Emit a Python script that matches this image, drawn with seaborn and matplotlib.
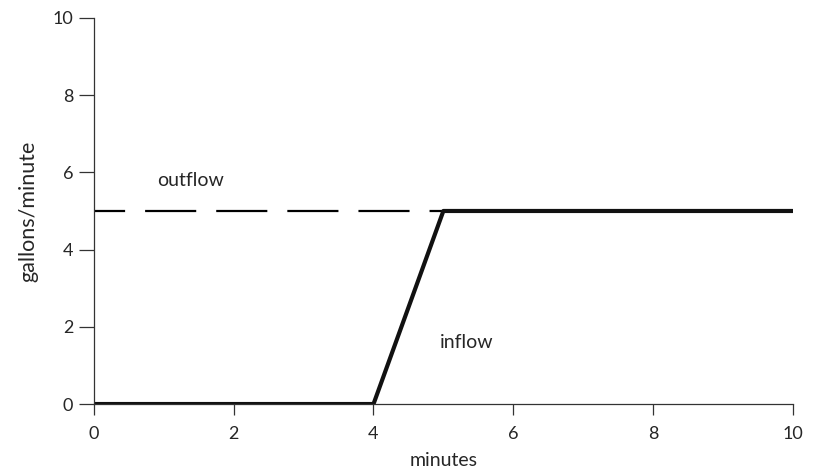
import matplotlib
matplotlib.use("Agg")
import matplotlib.pyplot as plt
import seaborn as sns
import pandas as pd

# data
inflow_minutes = [0, 4, 5, 10]
inflow_rate = [0, 0, 5, 5]
outflow_minutes = [0, 5]
outflow_rate = [5, 5]
x_ticks = [0, 2, 4, 6, 8, 10]
y_ticks = [0, 2, 4, 6, 8, 10]

sns.set_theme(style="ticks")
plt.rcParams['font.family'] = ['Lato', 'DejaVu Sans']

fig = plt.figure(figsize=(8.18, 4.72), dpi=100)
ax = fig.add_axes([0.115, 0.144, 0.854, 0.818])

df_in = pd.DataFrame({"minutes": inflow_minutes, "rate": inflow_rate})
df_out = pd.DataFrame({"minutes": outflow_minutes, "rate": outflow_rate})

# outflow: dashed line
sns.lineplot(data=df_out, x="minutes", y="rate", ax=ax, color="black",
             linewidth=1.6)
ax.lines[-1].set_linestyle((9, (23, 9)))
# inflow: thick solid line
sns.lineplot(data=df_in, x="minutes", y="rate", ax=ax, color="#111111",
             linewidth=3.0)

ax.set_xlim(0, 10)
ax.set_ylim(0, 10)
ax.set_xticks(x_ticks)
ax.set_yticks(y_ticks)
ax.set_xlabel("minutes", fontsize=14, labelpad=7)
ax.set_ylabel("gallons/minute", fontsize=15.5, labelpad=10)
ax.tick_params(axis="both", labelsize=13, width=0.9, color="#333333",
               direction="out")
ax.tick_params(axis="x", length=8, pad=8)
ax.tick_params(axis="y", length=11, pad=4)
for s in ["left", "bottom"]:
    ax.spines[s].set_linewidth(0.9)
    ax.spines[s].set_color("#333333")
sns.despine(ax=ax)

ax.text(1.38, 5.8, "outflow", fontsize=14, ha="center", va="center")
ax.text(5.33, 1.6, "inflow", fontsize=14, ha="center", va="center")

fig.savefig("out.png", dpi=100)
